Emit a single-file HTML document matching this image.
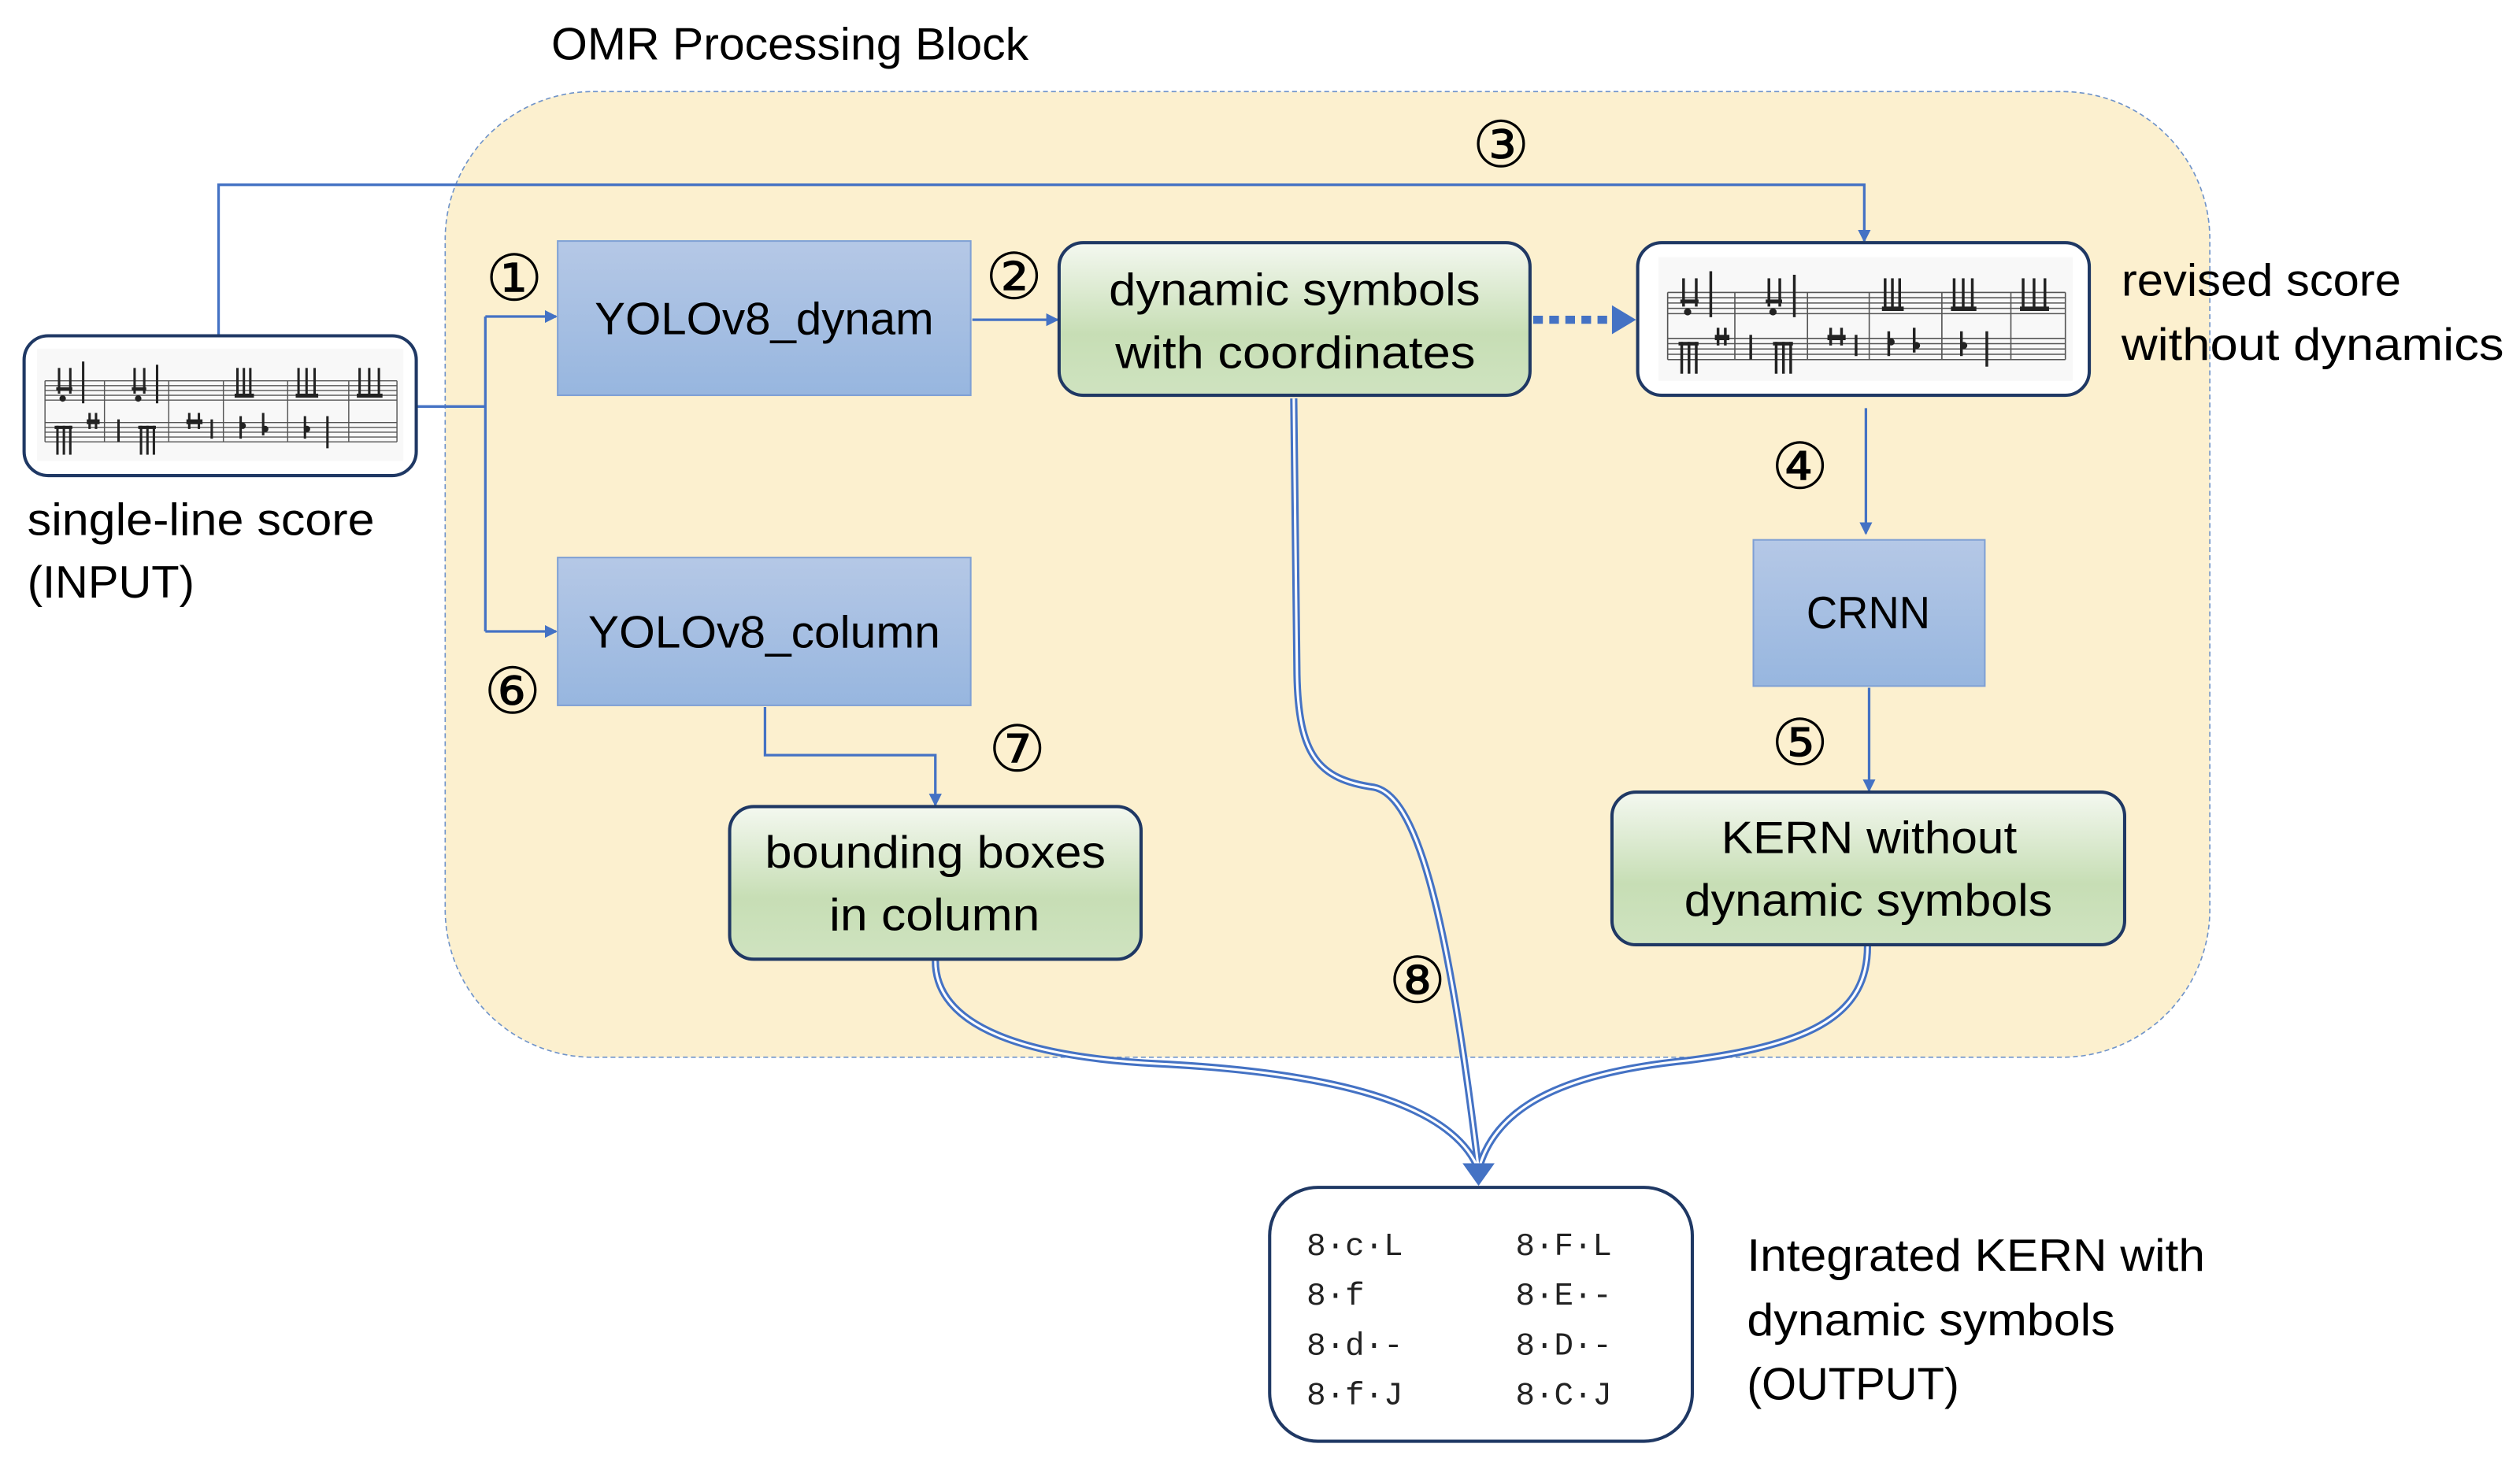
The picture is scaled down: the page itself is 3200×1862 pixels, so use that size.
<!DOCTYPE html>
<html><head><meta charset="utf-8"><style>
html,body{margin:0;padding:0;background:#fff}
svg{display:block}
text{font-family:"Liberation Sans",sans-serif;fill:#000}
.l{font-size:28px}
.n{font-family:"DejaVu Sans",sans-serif;font-size:40px}
.m{font-family:"Liberation Mono",monospace;font-size:20px;fill:#222}
</style></head><body>
<svg width="3200" height="1862" viewBox="0 0 1568 912.4" preserveAspectRatio="none" xmlns="http://www.w3.org/2000/svg">
<defs>
<linearGradient id="bl" x1="0" y1="0" x2="0" y2="1"><stop offset="0" stop-color="#b5c8e6"/><stop offset="1" stop-color="#97b6df"/></linearGradient>
<linearGradient id="gr" x1="0" y1="0" x2="0" y2="1"><stop offset="0" stop-color="#f4f8f0"/><stop offset="0.6" stop-color="#c7deb5"/><stop offset="1" stop-color="#cfe3c0"/></linearGradient>
<marker id="a" markerWidth="8" markerHeight="8" refX="7" refY="4" orient="auto" markerUnits="userSpaceOnUse"><path d="M0,0 L8,4 L0,8 Z" fill="#4472c4"/></marker>
<g id="score">
<rect x="0" y="0" width="228" height="70" fill="#f8f8f8"/>
<g stroke="#555" stroke-width="0.7">
<line x1="5" y1="20" x2="224" y2="20"/><line x1="5" y1="23" x2="224" y2="23"/><line x1="5" y1="26" x2="224" y2="26"/><line x1="5" y1="29" x2="224" y2="29"/><line x1="5" y1="32" x2="224" y2="32"/>
<line x1="5" y1="46" x2="224" y2="46"/><line x1="5" y1="49" x2="224" y2="49"/><line x1="5" y1="52" x2="224" y2="52"/><line x1="5" y1="55" x2="224" y2="55"/><line x1="5" y1="58" x2="224" y2="58"/>
<line x1="5" y1="20" x2="5" y2="58"/><line x1="42" y1="20" x2="42" y2="58"/><line x1="82" y1="20" x2="82" y2="58"/><line x1="116" y1="20" x2="116" y2="58"/><line x1="156" y1="20" x2="156" y2="58"/><line x1="194" y1="20" x2="194" y2="58"/><line x1="224" y1="20" x2="224" y2="58"/>
</g>
<g fill="#222">
<rect x="13" y="12" width="1.5" height="16"/><rect x="20" y="12" width="1.5" height="16"/><rect x="12" y="24" width="10" height="2"/>
<rect x="28" y="8" width="1.5" height="26"/><rect x="60" y="12" width="1.5" height="16"/><rect x="66" y="12" width="1.5" height="16"/><rect x="59" y="24" width="9" height="2"/><rect x="74" y="10" width="1.5" height="24"/>
<rect x="124" y="12" width="1.5" height="18"/><rect x="128" y="12" width="1.5" height="18"/><rect x="132" y="12" width="1.5" height="18"/><rect x="123" y="28" width="12" height="2.5"/>
<rect x="162" y="12" width="1.5" height="18"/><rect x="167" y="12" width="1.5" height="18"/><rect x="172" y="12" width="1.5" height="18"/><rect x="161" y="28" width="14" height="2.5"/>
<rect x="200" y="12" width="1.5" height="18"/><rect x="206" y="12" width="1.5" height="18"/><rect x="212" y="12" width="1.5" height="18"/><rect x="199" y="28" width="16" height="2.5"/>
<rect x="12" y="48" width="1.5" height="18"/><rect x="16" y="48" width="1.5" height="18"/><rect x="20" y="48" width="1.5" height="18"/><rect x="11" y="48" width="11" height="2"/>
<rect x="32" y="40" width="1.5" height="10"/><rect x="36" y="40" width="1.5" height="10"/><rect x="31" y="44" width="8" height="3"/>
<rect x="50" y="44" width="1.5" height="14"/><rect x="64" y="48" width="1.5" height="18"/><rect x="68" y="48" width="1.5" height="18"/><rect x="72" y="48" width="1.5" height="18"/><rect x="63" y="48" width="11" height="2"/>
<rect x="94" y="40" width="1.5" height="10"/><rect x="100" y="40" width="1.5" height="10"/><rect x="93" y="44" width="10" height="3"/>
<rect x="108" y="44" width="1.5" height="12"/><rect x="126" y="42" width="1.5" height="14"/><rect x="140" y="40" width="1.5" height="14"/><rect x="166" y="42" width="1.5" height="14"/><rect x="180" y="42" width="1.5" height="20"/>
<circle cx="16" cy="31" r="2"/><circle cx="63" cy="31" r="2"/><circle cx="128" cy="48" r="2"/><circle cx="142" cy="50" r="2"/><circle cx="168" cy="50" r="2"/>
</g>
</g>
</defs>

<rect x="277" y="57" width="1098" height="601" rx="92" fill="#fcf0cf" stroke="#6f93c9" stroke-width="0.8" stroke-dasharray="3,2"/>
<text class="l" x="343" y="37" textLength="297" lengthAdjust="spacingAndGlyphs">OMR Processing Block</text>

<g stroke="#4472c4" stroke-width="1.6" fill="none">
<polyline points="136,209 136,115 1160,115 1160,150" marker-end="url(#a)"/>
<polyline points="259,253 302,253"/>
<polyline points="302,197 302,393"/>
<line x1="302" y1="197" x2="346" y2="197" marker-end="url(#a)"/>
<line x1="302" y1="393" x2="346" y2="393" marker-end="url(#a)"/>
<line x1="605" y1="199" x2="658" y2="199" marker-end="url(#a)"/>
<line x1="1161" y1="254" x2="1161" y2="332" marker-end="url(#a)"/>
<line x1="1163" y1="428" x2="1163" y2="492" marker-end="url(#a)"/>
<polyline points="476,440 476,470 582,470 582,501" marker-end="url(#a)"/>
</g>
<line x1="954" y1="199" x2="1003" y2="199" stroke="#4472c4" stroke-width="5" stroke-dasharray="6,4"/>
<path d="M1003,190 L1018,199 L1003,208 Z" fill="#4472c4"/>

<g fill="none">
<g stroke="#4472c4" stroke-width="4.5">
<path d="M805,248 L807,420 C808,470 820,485 855,490 C880,495 900,560 920,728"/>
<path d="M582,598 C582,640 640,658 720,662 C840,668 905,690 920,728"/>
<path d="M1162,589 C1162,630 1130,650 1050,660 C970,668 930,690 920,728"/>
</g>
<g stroke="#fff" stroke-width="1.5">
<path d="M805,248 L807,420 C808,470 820,485 855,490 C880,495 900,560 920,728"/>
<path d="M582,598 C582,640 640,658 720,662 C840,668 905,690 920,728"/>
<path d="M1162,589 C1162,630 1130,650 1050,660 C970,668 930,690 920,728"/>
</g>
</g>
<path d="M910,724 L930,724 L920,738 Z" fill="#4472c4"/>

<rect x="15" y="209" width="244" height="87" rx="15" fill="#fff" stroke="#1f3864" stroke-width="2"/>
<use href="#score" x="23" y="217"/>
<text class="l" x="17" y="333" textLength="216" lengthAdjust="spacingAndGlyphs">single-line score</text>
<text class="l" x="17" y="372" textLength="104" lengthAdjust="spacingAndGlyphs">(INPUT)</text>

<rect x="347" y="150" width="257" height="96" fill="url(#bl)" stroke="#7fa0d4" stroke-width="1"/>
<text class="l" x="370" y="208" textLength="211" lengthAdjust="spacingAndGlyphs">YOLOv8_dynam</text>
<rect x="347" y="347" width="257" height="92" fill="url(#bl)" stroke="#7fa0d4" stroke-width="1"/>
<text class="l" x="366" y="403" textLength="219" lengthAdjust="spacingAndGlyphs">YOLOv8_column</text>

<rect x="659" y="151" width="293" height="95" rx="15" fill="url(#gr)" stroke="#1f3864" stroke-width="2"/>
<text class="l" x="690" y="190" textLength="231" lengthAdjust="spacingAndGlyphs">dynamic symbols</text>
<text class="l" x="694" y="229" textLength="224" lengthAdjust="spacingAndGlyphs">with coordinates</text>

<rect x="1019" y="151" width="281" height="95" rx="15" fill="#fff" stroke="#1f3864" stroke-width="2"/>
<g transform="translate(1032,160) scale(1.13,1.1)"><use href="#score"/></g>
<text class="l" x="1320" y="184" textLength="174" lengthAdjust="spacingAndGlyphs">revised score</text>
<text class="l" x="1320" y="224" textLength="238" lengthAdjust="spacingAndGlyphs">without dynamics</text>

<rect x="1091" y="336" width="144" height="91" fill="url(#bl)" stroke="#7fa0d4" stroke-width="1"/>
<text class="l" x="1124" y="391" textLength="77" lengthAdjust="spacingAndGlyphs">CRNN</text>

<rect x="1003" y="493" width="319" height="95" rx="15" fill="url(#gr)" stroke="#1f3864" stroke-width="2"/>
<text class="l" x="1071" y="531" textLength="184" lengthAdjust="spacingAndGlyphs">KERN without</text>
<text class="l" x="1048" y="570" textLength="229" lengthAdjust="spacingAndGlyphs">dynamic symbols</text>

<rect x="454" y="502" width="256" height="95" rx="15" fill="url(#gr)" stroke="#1f3864" stroke-width="2"/>
<text class="l" x="476" y="540" textLength="212" lengthAdjust="spacingAndGlyphs">bounding boxes</text>
<text class="l" x="516" y="579" textLength="131" lengthAdjust="spacingAndGlyphs">in column</text>

<rect x="790" y="739" width="263" height="158" rx="30" fill="#fff" stroke="#1f3864" stroke-width="2"/>
<text class="m" x="813" y="781">8·c·L</text><text class="m" x="943" y="781">8·F·L</text>
<text class="m" x="813" y="812">8·f</text><text class="m" x="943" y="812">8·E·-</text>
<text class="m" x="813" y="843">8·d·-</text><text class="m" x="943" y="843">8·D·-</text>
<text class="m" x="813" y="874">8·f·J</text><text class="m" x="943" y="874">8·C·J</text>
<text class="l" x="1087" y="791" textLength="285" lengthAdjust="spacingAndGlyphs">Integrated KERN with</text>
<text class="l" x="1087" y="831" textLength="229" lengthAdjust="spacingAndGlyphs">dynamic symbols</text>
<text class="l" x="1087" y="871" textLength="132" lengthAdjust="spacingAndGlyphs">(OUTPUT)</text>

<text class="n" x="302" y="187">①</text>
<text class="n" x="613" y="186">②</text>
<text class="n" x="916" y="104">③</text>
<text class="n" x="1102" y="304">④</text>
<text class="n" x="1102" y="476">⑤</text>
<text class="n" x="301" y="444">⑥</text>
<text class="n" x="615" y="480">⑦</text>
<text class="n" x="864" y="624">⑧</text>
</svg>
</body></html>
